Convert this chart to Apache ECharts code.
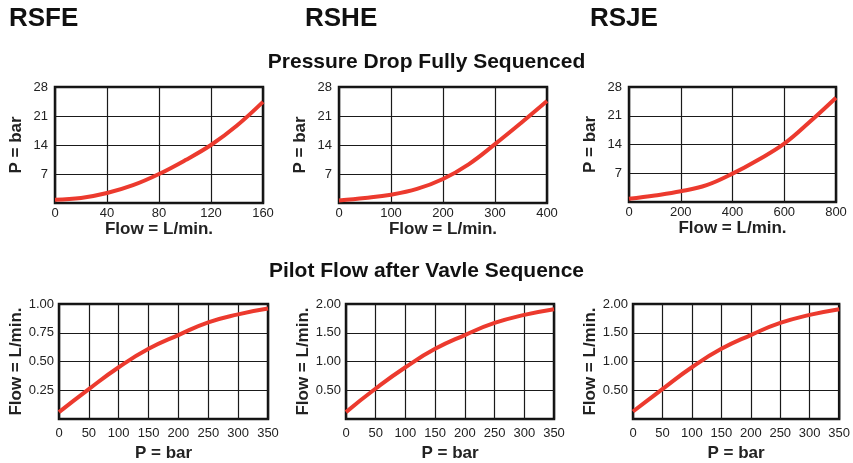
<!DOCTYPE html>
<html>
<head>
<meta charset="utf-8">
<title>RSFE / RSHE / RSJE</title>
<script src="https://cdn.jsdelivr.net/npm/echarts@6/dist/echarts.min.js"></script>
<style>
    html, body { margin: 0; padding: 0; background: #ffffff; }
    #main { width: 853px; height: 463px; }
</style>
</head>
<body>
<div id="main"></div>
<script>
// 型号
var models = ['RSFE', 'RSHE', 'RSJE'];

// 压降曲线 (Flow L/min -> P bar)
var rsfeFlow = [0, 20, 40, 60, 80, 100, 120, 140, 160];
var rsfeDrop = [0.8, 1.2, 2.4, 4.3, 7.0, 10.3, 14.0, 18.7, 24.4];
var rsheFlow = [0, 50, 100, 150, 200, 250, 300, 350, 400];
var rsheDrop = [0.6, 1.2, 2.0, 3.4, 5.8, 9.4, 14.2, 19.3, 24.6];
var rsjeFlow = [0, 100, 200, 300, 400, 500, 600, 700, 800];
var rsjeDrop = [0.8, 1.6, 2.6, 4.1, 6.9, 10.3, 14.2, 19.6, 25.4];
var dropMax = [160, 400, 800];
var dropStep = [40, 100, 200];

// 先导流量曲线 (P bar -> Flow L/min)
var pilotP = [0, 50, 100, 150, 200, 250, 300, 350];
var rsfePilot = [0.06, 0.26, 0.45, 0.61, 0.73, 0.84, 0.91, 0.96];
var rshePilot = [0.12, 0.53, 0.90, 1.22, 1.46, 1.67, 1.81, 1.91];
var rsjePilot = [0.13, 0.52, 0.90, 1.22, 1.46, 1.67, 1.81, 1.91];
var pilotMax = [1, 2, 2];
var pilotStep = [0.25, 0.5, 0.5];

var myChart = echarts.init(document.getElementById('main'));

var font = 'Liberation Sans, Arial, Helvetica, sans-serif';
var red = '#ec3a2e';

function pairs(xs, ys) {
    return xs.map(function (x, i) { return [x, ys[i]]; });
}

var grids = [
    {left: 55, top: 87, width: 208, height: 116},
    {left: 339, top: 87, width: 208, height: 116},
    {left: 629, top: 87, width: 207, height: 115},
    {left: 59, top: 304, width: 209, height: 115},
    {left: 346, top: 304, width: 208, height: 116},
    {left: 633, top: 304, width: 211, height: 116}
];
grids.forEach(function (g) {
    g.show = true;
    g.borderColor = '#111';
    g.borderWidth = 2.5;
    g.backgroundColor = '#fff';
});

var xAxes = [], yAxes = [], series = [];
var dropData = [pairs(rsfeFlow, rsfeDrop), pairs(rsheFlow, rsheDrop), pairs(rsjeFlow, rsjeDrop)];
var pilotData = [pairs(pilotP, rsfePilot), pairs(pilotP, rshePilot), pairs(pilotP, rsjePilot)];

function axisBase(idx) {
    return {
        gridIndex: idx,
        type: 'value',
        axisLine: {show: false},
        axisTick: {show: false},
        splitLine: {show: true, lineStyle: {color: '#1a1a1a', width: 1.2}},
        nameLocation: 'middle',
        nameTextStyle: {fontFamily: font, fontWeight: 'bold', fontSize: 17, color: '#222'}
    };
}

for (var i = 0; i < 3; i++) {
    // 上排
    var xa = axisBase(i);
    xa.min = 0; xa.max = dropMax[i]; xa.interval = dropStep[i];
    xa.name = 'Flow = L/min.';
    xa.nameGap = 16;
    xa.axisLabel = {fontFamily: font, fontSize: 13, color: '#222', margin: 4};
    xAxes.push(xa);

    var ya = axisBase(i);
    ya.min = 0; ya.max = 28; ya.interval = 7;
    ya.name = 'P = bar';
    ya.nameGap = 30;
    ya.axisLabel = {
        fontFamily: font, fontSize: 13, color: '#222', margin: 7,
        formatter: function (v) { return v === 0 ? '' : v; }
    };
    yAxes.push(ya);

    series.push({
        type: 'line', xAxisIndex: i, yAxisIndex: i,
        data: dropData[i], smooth: 0.4, showSymbol: false,
        lineStyle: {color: red, width: 4}
    });
}

for (var j = 0; j < 3; j++) {
    // 下排
    var k = j + 3;
    var xb = axisBase(k);
    xb.min = 0; xb.max = 350; xb.interval = 50;
    xb.name = 'P = bar';
    xb.nameGap = 26;
    xb.axisLabel = {fontFamily: font, fontSize: 13, color: '#222', margin: 8};
    xAxes.push(xb);

    var yb = axisBase(k);
    yb.min = 0; yb.max = pilotMax[j]; yb.interval = pilotStep[j];
    yb.name = 'Flow = L/min.';
    yb.nameGap = 33;
    yb.axisLabel = {
        fontFamily: font, fontSize: 13, color: '#222', margin: 5,
        formatter: function (v) { return v === 0 ? '' : v.toFixed(2); }
    };
    yAxes.push(yb);

    series.push({
        type: 'line', xAxisIndex: k, yAxisIndex: k,
        data: pilotData[j], smooth: true, showSymbol: false,
        lineStyle: {color: red, width: 4}
    });
}

var titleStyle = {fontFamily: font, fontWeight: 'bold', color: '#111'};
var option = {
    backgroundColor: '#fff',
    animation: false,
    title: [
        {text: models[0], left: 9, top: 6, padding: 0, textStyle: Object.assign({fontSize: 26}, titleStyle)},
        {text: models[1], left: 305, top: 6, padding: 0, textStyle: Object.assign({fontSize: 26}, titleStyle)},
        {text: models[2], left: 590, top: 6, padding: 0, textStyle: Object.assign({fontSize: 26}, titleStyle)},
        {text: 'Pressure Drop Fully Sequenced', left: 'center', top: 52, padding: 0, textStyle: Object.assign({fontSize: 21}, titleStyle)},
        {text: 'Pilot Flow after Vavle Sequence', left: 'center', top: 261, padding: 0, textStyle: Object.assign({fontSize: 21}, titleStyle)}
    ],
    grid: grids,
    xAxis: xAxes,
    yAxis: yAxes,
    series: series
};

myChart.setOption(option);
</script>
</body>
</html>
